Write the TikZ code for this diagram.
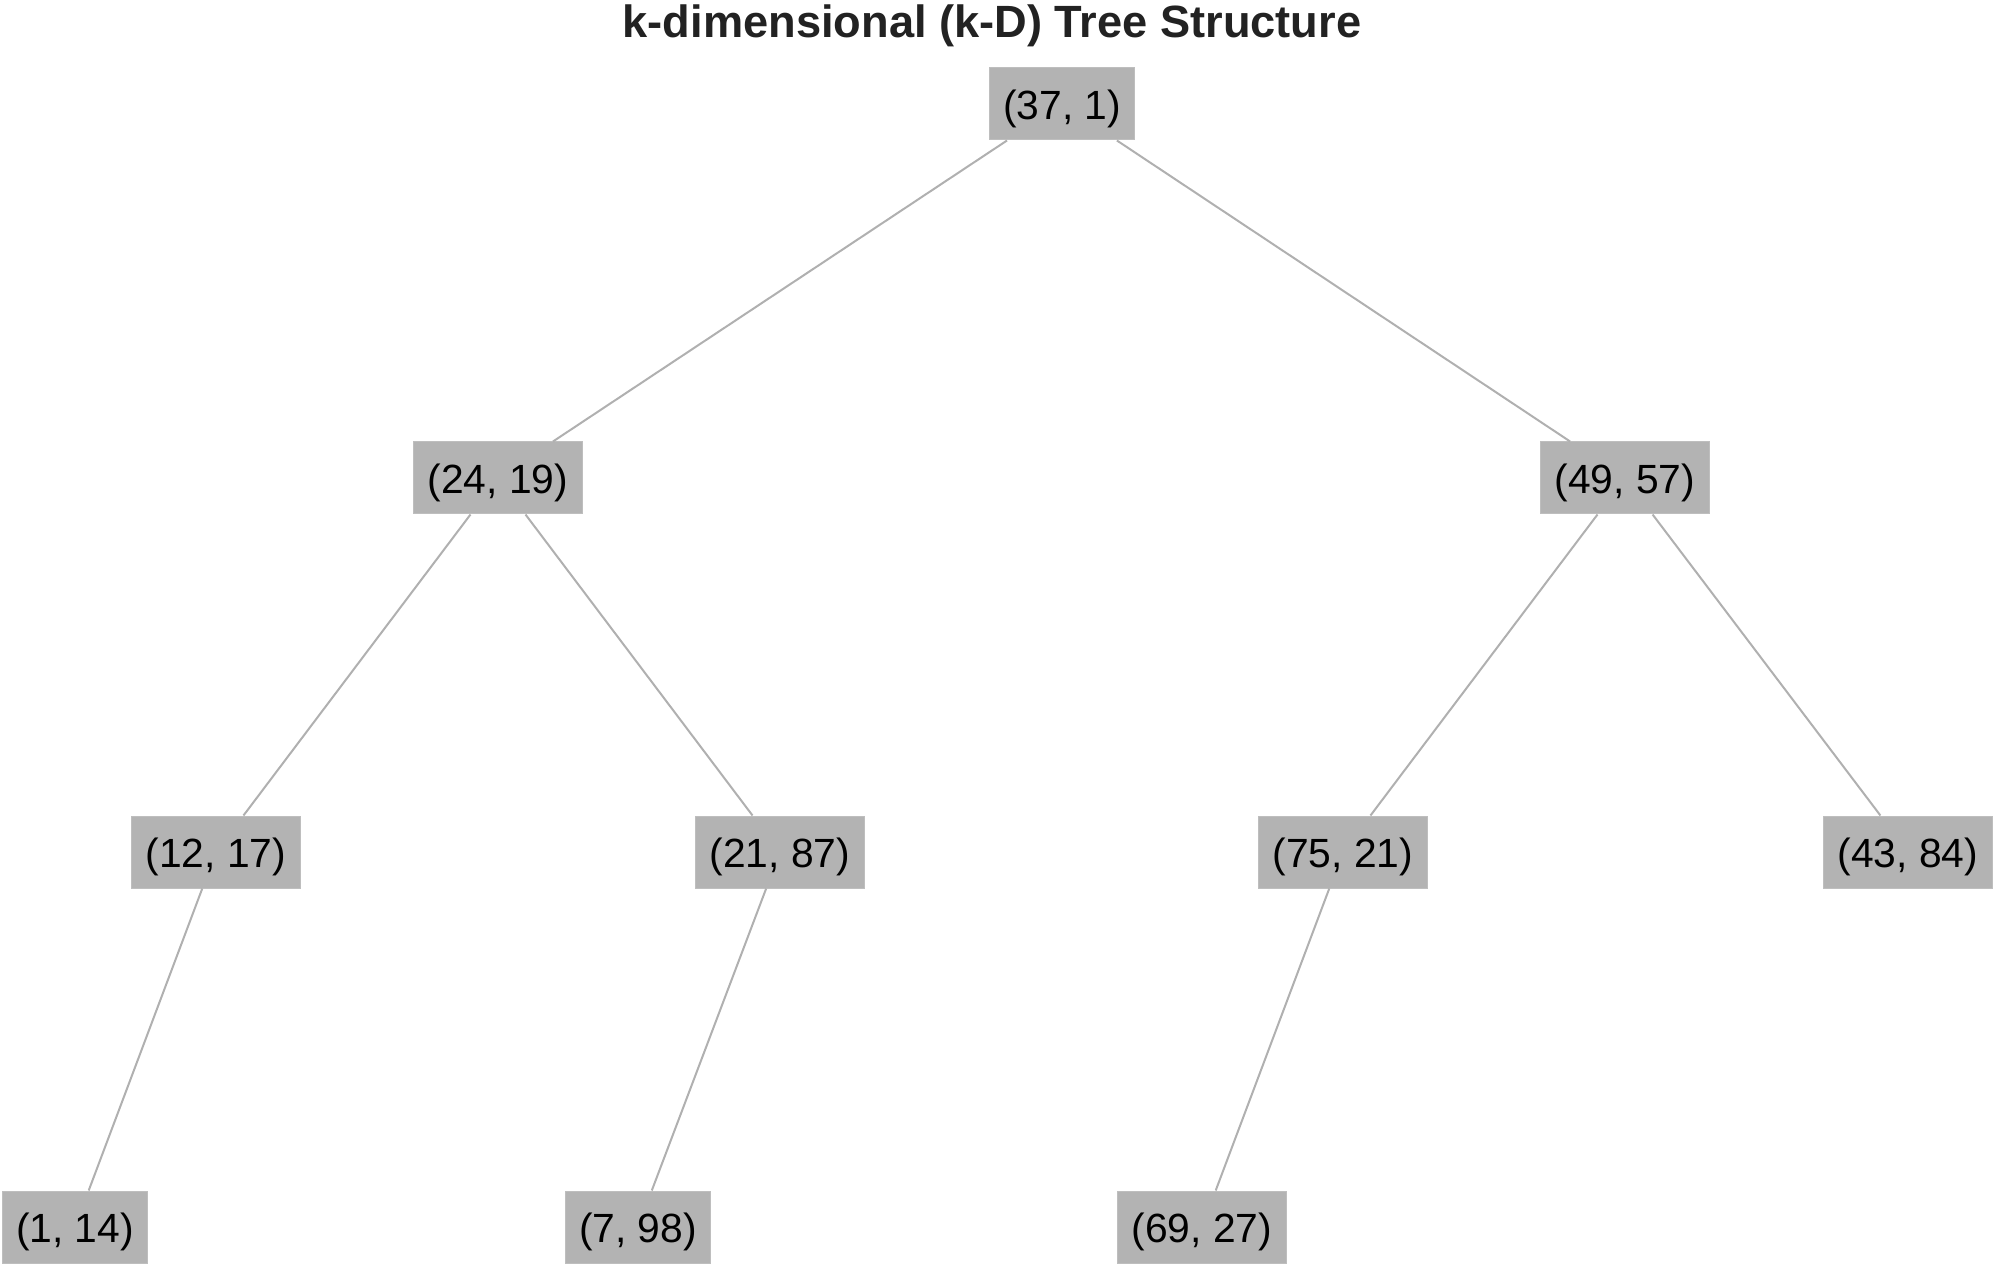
\documentclass[tikz,border=0pt]{standalone}
\usepackage{fontspec}
\setmainfont{Liberation Sans}
\definecolor{boxgray}{HTML}{B3B3B3}
\definecolor{edgegray}{HTML}{B0B0B0}
\definecolor{titlegray}{HTML}{222222}
\tikzset{
  kdnode/.style={fill=boxgray, draw=boxgray!85!white, line width=0.5pt, inner xsep=7pt,
    text height=20pt, text depth=4.3pt, minimum height=36pt,
    font=\fontsize{20.4}{24}\selectfont, text=black},
  kdedge/.style={draw=edgegray, line width=1pt}
}
\begin{document}
\begin{tikzpicture}[x=0.5pt, y=-0.5pt]
  \useasboundingbox (0,0) rectangle (1994,1267);

  \node[font=\fontsize{22.6}{26}\bfseries, text=titlegray] (title) at (992, 26) {k-dimensional (k-D) Tree Structure};

  %------ level 0 and 1
  \node[kdnode] (n37) at (1062, 104) {(37, 1)};
  \node[kdnode] (n24) at (498, 478) {(24, 19)};
  \node[kdnode] (n49) at (1625, 478) {(49, 57)};

  %------ level 2
  \node[kdnode] (n12) at (216, 852) {(12, 17)};
  \node[kdnode] (n21) at (780, 852) {(21, 87)};
  \node[kdnode] (n75) at (1343, 852) {(75, 21)};
  \node[kdnode] (n43) at (1908, 852) {(43, 84)};

  %------ level 3
  \node[kdnode] (n1) at (75, 1227) {(1, 14)};
  \node[kdnode] (n7) at (638, 1227) {(7, 98)};
  \node[kdnode] (n69) at (1202, 1227) {(69, 27)};

  %------ edges
  \draw[kdedge] (n37) -- (n24);
  \draw[kdedge] (n37) -- (n49);
  \draw[kdedge] (n24) -- (n12);
  \draw[kdedge] (n24) -- (n21);
  \draw[kdedge] (n49) -- (n75);
  \draw[kdedge] (n49) -- (n43);
  \draw[kdedge] (n12) -- (n1);
  \draw[kdedge] (n21) -- (n7);
  \draw[kdedge] (n75) -- (n69);

\end{tikzpicture}
\end{document}
